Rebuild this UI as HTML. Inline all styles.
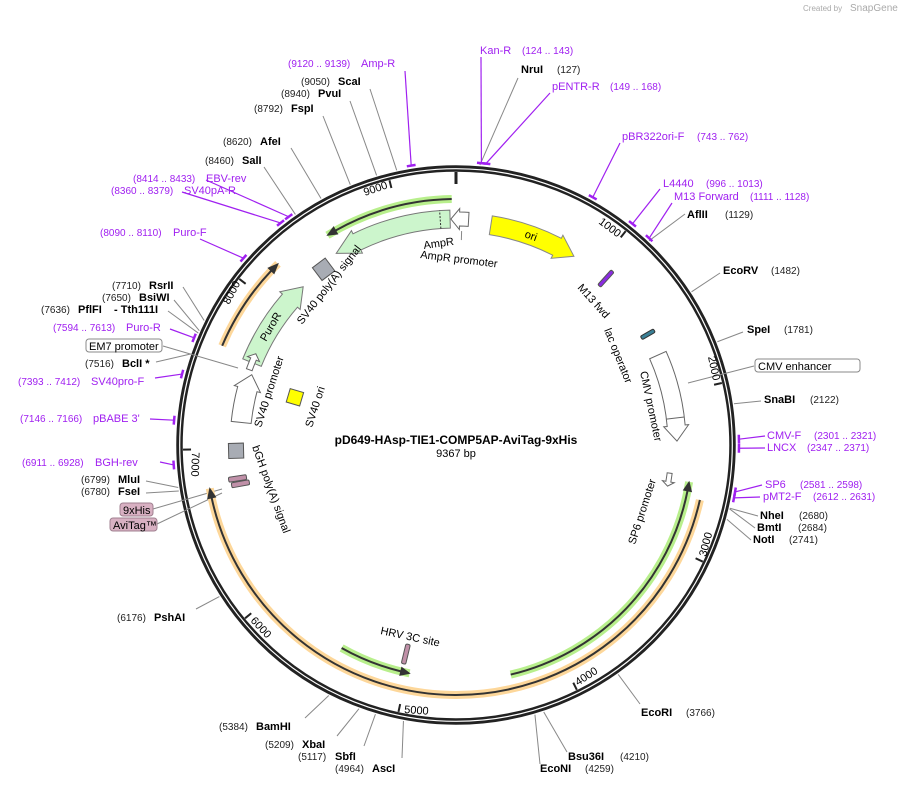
<!DOCTYPE html>
<html><head><meta charset="utf-8"><style>
html,body{margin:0;padding:0;background:#fff;width:900px;height:785px;overflow:hidden}
svg text{font-family:"Liberation Sans","DejaVu Sans",sans-serif;font-size:11px;fill:#000}
.n{font-size:10px;fill:#222}
.b{font-weight:bold;font-size:11px}
.p{fill:#a020f0;font-size:11px}
.pn{fill:#a020f0;font-size:10px}
.s{font-size:11px}
</style></head><body>
<svg id="m" width="900" height="785" viewBox="0 0 900 785" xmlns="http://www.w3.org/2000/svg">
<g id="shapes"></g>
<text x="803" y="11" style="font-size:8px;fill:#aaa">Created by</text><text x="850" y="11" style="font-size:10px;fill:#aaa">SnapGene</text>
<text x="456" y="444" text-anchor="middle" style="font-weight:bold;font-size:12px">pD649-HAsp-TIE1-COMP5AP-AviTag-9xHis</text>
<text x="456" y="457" text-anchor="middle" style="font-size:11px">9367 bp</text>
<text x="288" y="67" class="pn">(9120 .. 9139)</text><text x="361" y="67" class="p">Amp-R</text>
<text x="301" y="85" class="n">(9050)</text><text x="338" y="85" class="b">ScaI</text>
<text x="281" y="97" class="n">(8940)</text><text x="318" y="97" class="b">PvuI</text>
<text x="254" y="112" class="n">(8792)</text><text x="291" y="112" class="b">FspI</text>
<text x="223" y="145" class="n">(8620)</text><text x="260" y="145" class="b">AfeI</text>
<text x="205" y="164" class="n">(8460)</text><text x="242" y="164" class="b">SalI</text>
<text x="133" y="182" class="pn">(8414 .. 8433)</text><text x="206" y="182" class="p">EBV-rev</text>
<text x="111" y="194" class="pn">(8360 .. 8379)</text><text x="184" y="194" class="p">SV40pA-R</text>
<text x="100" y="236" class="pn">(8090 .. 8110)</text><text x="173" y="236" class="p">Puro-F</text>
<text x="480" y="54" class="p">Kan-R</text><text x="522" y="54" class="pn">(124 .. 143)</text>
<text x="521" y="73" class="b">NruI</text><text x="557" y="73" class="n">(127)</text>
<text x="552" y="90" class="p">pENTR-R</text><text x="610" y="90" class="pn">(149 .. 168)</text>
<text x="622" y="140" class="p">pBR322ori-F</text><text x="697" y="140" class="pn">(743 .. 762)</text>
<text x="663" y="187" class="p">L4440</text><text x="706" y="187" class="pn">(996 .. 1013)</text>
<text x="674" y="200" class="p">M13 Forward</text><text x="750" y="200" class="pn">(1111 .. 1128)</text>
<text x="687" y="218" class="b">AflII</text><text x="725" y="218" class="n">(1129)</text>
<text x="723" y="274" class="b">EcoRV</text><text x="771" y="274" class="n">(1482)</text>
<text x="747" y="333" class="b">SpeI</text><text x="784" y="333" class="n">(1781)</text>
<rect x="755" y="359" width="105" height="13" rx="3" fill="#fff" stroke="#888"/>
<text x="758" y="370" class="s">CMV enhancer</text>
<text x="764" y="403" class="b">SnaBI</text><text x="810" y="403" class="n">(2122)</text>
<text x="767" y="439" class="p">CMV-F</text><text x="814" y="439" class="pn">(2301 .. 2321)</text>
<text x="767" y="451" class="p">LNCX</text><text x="807" y="451" class="pn">(2347 .. 2371)</text>
<text x="765" y="488" class="p">SP6</text><text x="800" y="488" class="pn">(2581 .. 2598)</text>
<text x="763" y="500" class="p">pMT2-F</text><text x="813" y="500" class="pn">(2612 .. 2631)</text>
<text x="760" y="519" class="b">NheI</text><text x="799" y="519" class="n">(2680)</text>
<text x="757" y="531" class="b">BmtI</text><text x="798" y="531" class="n">(2684)</text>
<text x="753" y="543" class="b">NotI</text><text x="789" y="543" class="n">(2741)</text>
<text x="641" y="716" class="b">EcoRI</text><text x="686" y="716" class="n">(3766)</text>
<text x="568" y="760" class="b">Bsu36I</text><text x="620" y="760" class="n">(4210)</text>
<text x="540" y="772" class="b">EcoNI</text><text x="585" y="772" class="n">(4259)</text>
<text x="335" y="772" class="n">(4964)</text><text x="372" y="772" class="b">AscI</text>
<text x="298" y="760" class="n">(5117)</text><text x="335" y="760" class="b">SbfI</text>
<text x="265" y="748" class="n">(5209)</text><text x="302" y="748" class="b">XbaI</text>
<text x="219" y="730" class="n">(5384)</text><text x="256" y="730" class="b">BamHI</text>
<text x="117" y="621" class="n">(6176)</text><text x="154" y="621" class="b">PshAI</text>
<text x="149" y="289" class="b">RsrII</text><text x="112" y="289" class="n">(7710)</text>
<text x="139" y="301" class="b">BsiWI</text><text x="102" y="301" class="n">(7650)</text>
<text x="78" y="313" class="b">PflFI</text><text x="41" y="313" class="n">(7636)</text><text x="114" y="313" class="b">- Tth111I</text>
<text x="53" y="331" class="pn">(7594 .. 7613)</text><text x="126" y="331" class="p">Puro-R</text>
<rect x="86" y="339" width="76" height="13" rx="3" fill="#fff" stroke="#888"/>
<text x="89" y="350" class="s">EM7 promoter</text>
<text x="85" y="367" class="n">(7516)</text><text x="122" y="367" class="b">BclI *</text>
<text x="18" y="385" class="pn">(7393 .. 7412)</text><text x="91" y="385" class="p">SV40pro-F</text>
<text x="20" y="422" class="pn">(7146 .. 7166)</text><text x="93" y="422" class="p">pBABE 3'</text>
<text x="22" y="466" class="pn">(6911 .. 6928)</text><text x="95" y="466" class="p">BGH-rev</text>
<text x="81" y="483" class="n">(6799)</text><text x="118" y="483" class="b">MluI</text>
<text x="81" y="495" class="n">(6780)</text><text x="118" y="495" class="b">FseI</text>
<rect x="120" y="503" width="33" height="13" rx="3" fill="#d8b0c2" stroke="#a08090"/>
<text x="123" y="514" class="s">9xHis</text>
<rect x="110" y="518" width="47" height="13" rx="3" fill="#d8b0c2" stroke="#a08090"/>
<text x="113" y="529" class="s">AviTag™</text>
<text transform="translate(365,196) rotate(-19)" class="s">9000</text>
<text transform="translate(598,223) rotate(37)" class="s">1000</text>
<text transform="translate(708,357) rotate(78)" class="s">2000</text>
<text transform="translate(706,557) rotate(-75)" class="s">3000</text>
<text transform="translate(578,686) rotate(-33)" class="s">4000</text>
<text transform="translate(404,713) rotate(4)" class="s">5000</text>
<text transform="translate(250,621) rotate(47)" class="s">6000</text>
<text transform="translate(192,452) rotate(92)" class="s">7000</text>
<text transform="translate(229,305) rotate(-62)" class="s">8000</text>
<text transform="translate(424,249) rotate(-8)" class="s">AmpR</text>
<text transform="translate(420,258) rotate(7)" class="s">AmpR promoter</text>
<text transform="translate(524,237) rotate(20)" class="s">ori</text>
<text transform="translate(577,288) rotate(48)" class="s">M13 fwd</text>
<text transform="translate(604,330) rotate(68)" class="s">lac operator</text>
<text transform="translate(640,372) rotate(78)" class="s">CMV promoter</text>
<text transform="translate(635,545) rotate(-72)" class="s">SP6 promoter</text>
<text transform="translate(380,634) rotate(12)" class="s">HRV 3C site</text>
<text transform="translate(252,447) rotate(70)" class="s">bGH poly(A) signal</text>
<text transform="translate(312,428) rotate(-72)" class="s">SV40 ori</text>
<text transform="translate(261,428) rotate(-72)" class="s">SV40 promoter</text>
<text transform="translate(266,342) rotate(-60)" class="s">PuroR</text>
<text transform="translate(302,325) rotate(-52)" class="s">SV40 poly(A) signal</text>
</svg>
<script>
(function(){
var cx=456,cy=445,N=9367,g=document.getElementById('shapes'),NS='http://www.w3.org/2000/svg';
function P(r,a){a=a*Math.PI/180;return [cx+r*Math.sin(a),cy-r*Math.cos(a)];}
function el(t,at){var e=document.createElementNS(NS,t);for(var k in at)e.setAttribute(k,at[k]);g.appendChild(e);return e;}
function bd(b){return b/N*360;}
function arcPath(r,a1,a2){var p1=P(r,a1),p2=P(r,a2);var sw=a2>a1?1:0;var lg=Math.abs(a2-a1)>180?1:0;return 'M'+p1+' A'+r+' '+r+' 0 '+lg+' '+sw+' '+p2;}
function farrow(a1,a2,ri,ro,fill,stroke,head){
  var dir=a2>a1?1:-1, hb=a2-dir*head, w=3.5, rm=(ri+ro)/2;
  var lg=Math.abs(hb-a1)>180?1:0, sw=dir>0?1:0, sw2=dir>0?0:1;
  var d='M'+P(ro,a1)+' A'+ro+' '+ro+' 0 '+lg+' '+sw+' '+P(ro,hb)+' L'+P(ro+w,hb)+' L'+P(rm,a2)+' L'+P(ri-w,hb)+' L'+P(ri,hb)+' A'+ri+' '+ri+' 0 '+lg+' '+sw2+' '+P(ri,a1)+' Z';
  el('path',{d:d,fill:fill,stroke:stroke,'stroke-width':1});
}
function rbar(a,r1,r2,w,fill,stroke){var p=P((r1+r2)/2,a);var h=r2-r1;
  el('rect',{x:p[0]-w/2,y:p[1]-h/2,width:w,height:h,rx:1.5,fill:fill,stroke:stroke,'stroke-width':1,transform:'rotate('+a+' '+p[0]+' '+p[1]+')'});}
function sq(a,r,s,fill){var p=P(r,a);el('rect',{x:p[0]-s/2,y:p[1]-s/2,width:s,height:s,fill:fill,stroke:'#555','stroke-width':1,transform:'rotate('+a+' '+p[0]+' '+p[1]+')'});}
function line(a1,a2,r,glow){
  el('path',{d:arcPath(r,a1,a2),fill:'none',stroke:glow,'stroke-width':8,'stroke-linecap':'butt'});
  var dir=a2>a1?1:-1, hb=a2-dir*2.2;
  el('path',{d:arcPath(r,a1,hb),fill:'none',stroke:'#333','stroke-width':2});
  el('path',{d:'M'+P(r+4,hb)+' L'+P(r,a2)+' L'+P(r-4,hb)+' Z',fill:'#333',stroke:'#333','stroke-width':1});
}
el('circle',{cx:cx,cy:cy,r:276.5,fill:'none',stroke:'#222','stroke-width':6.5});
el('circle',{cx:cx,cy:cy,r:276.3,fill:'none',stroke:'#fff','stroke-width':1.2});
for(var k=1;k<=9;k++){var a=bd(k*1000);var p1=P(273,a),p2=P(265,a);el('line',{x1:p1[0],y1:p1[1],x2:p2[0],y2:p2[1],stroke:'#222','stroke-width':2});}
var t1=P(273,0),t2=P(261,0);el('line',{x1:t1[0],y1:t1[1],x2:t2[0],y2:t2[1],stroke:'#222','stroke-width':3});
function L(a,x,y,c,r0){var p=P(r0||281,a);el('line',{x1:p[0],y1:p[1],x2:x,y2:y,stroke:c||'#888','stroke-width':1});}
var E=[[127,518,78],[1129,685,214],[1482,720,273],[1781,743,332],[2122,761,401],[2680,758,516],[2684,755,528],[2741,751,540],
[3766,640,704],[4210,567,752],[4259,540,764],[4964,402,758],[5117,364,746],[5209,337,736],[5384,305,718],[6176,196,609],
[6780,146,493],[6799,146,481],[7516,156,362],[7636,168,311],[7650,174,300],[7710,183,287],[8460,264,167],[8620,291,148],[8792,323,116],[8940,350,101],[9050,370,89]];
E.forEach(function(e){L(bd(e[0]),e[1],e[2]);});
el('line',{x1:754,y1:366,x2:688,y2:383,stroke:'#888'});
el('line',{x1:163,y1:346,x2:238,y2:368,stroke:'#888'});
el('line',{x1:153,y1:509,x2:222,y2:489,stroke:'#888'});
el('line',{x1:157,y1:524,x2:222,y2:493,stroke:'#888'});
el('line',{x1:532,y1:363,x2:643,y2:340,stroke:'#fff','stroke-width':0});
var Pr=[[9130,405,71],[134,481,57],[158,550,93],[752,620,143],[1004,660,189],[1120,672,203],[2311,765,436],[2359,765,448],[2590,762,485],[2622,760,497],
[6920,160,462],[7156,150,419],[7403,155,378],[7604,170,329],[8100,200,239],[8370,182,192],[8424,206,180]];
Pr.forEach(function(e){var a=bd(e[0]);var p=P(283,a);el('line',{x1:p[0],y1:p[1],x2:e[1],y2:e[2],stroke:'#a020f0','stroke-width':1.2});
 var q1=P(283,a-0.9),q2=P(283,a+0.9);el('line',{x1:q1[0],y1:q1[1],x2:q2[0],y2:q2[1],stroke:'#a020f0','stroke-width':2.5});});
line(102.7,260,250,'#fdd79a');
line(293,315.5,254,'#fdd79a');
line(-1,-31.5,246,'#b8ef8c');
line(166.6,99,236,'#b8ef8c');
line(209.4,191.5,233,'#b8ef8c');
farrow(-1.5,-32,217,235,'#ccf5cc','#777',6);
var d1=P(217,-4),d2=P(235,-4);el('line',{x1:d1[0],y1:d1[1],x2:d2[0],y2:d2[1],stroke:'#333','stroke-dasharray':'2,1.5'});
farrow(3.2,-1.3,219,233,'#fff','#666',2.2);
var l1=P(214,1.5),l2=P(205,1.5);el('line',{x1:l1[0],y1:l1[1],x2:l2[0],y2:l2[1],stroke:'#888'});
farrow(9,32,213,232,'#ffff00','#888',5);
rbar(42,214,234,4,'#8a2be2','#555');
rbar(60,214,229,4,'#3a8096','#333');
farrow(66,89,212,230,'#fff','#666',4);
var c1=P(212,83),c2=P(230,83);el('line',{x1:c1[0],y1:c1[1],x2:c2[0],y2:c2[1],stroke:'#666'});
farrow(97.5,101,213,218,'#fff','#666',1.2);
rbar(193.5,205,225,4.5,'#c090a8','#555');
farrow(292,316,210,230,'#ccf5cc','#777',5);
farrow(276,289,206,226,'#fff','#666',4);
farrow(290,294.5,217,223,'#fff','#666',1.5);
sq(323,220,16,'#a8acb4');
sq(286.5,168,14,'#ffff00');
sq(268.5,220,15,'#a8acb4');
rbar(259.8,210,228,5,'#c090a8','#555');
rbar(261.3,212,230,5,'#c090a8','#555');
})();
</script>
</body></html>
